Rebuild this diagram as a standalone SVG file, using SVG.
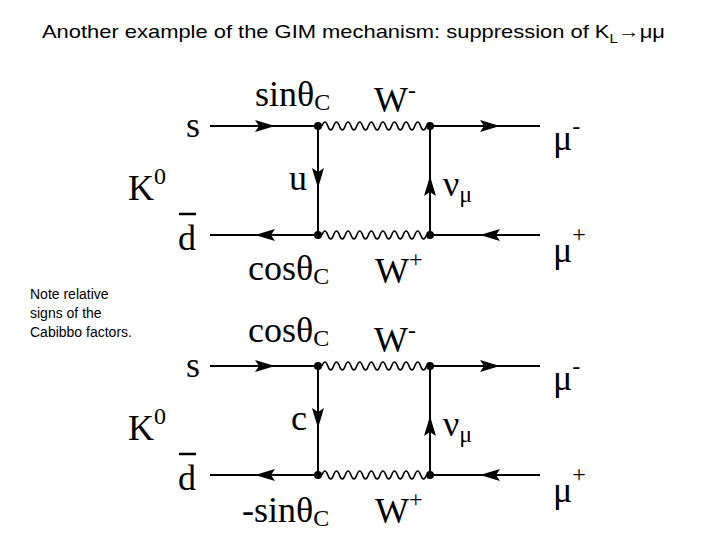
<svg xmlns="http://www.w3.org/2000/svg" width="720" height="540" viewBox="0 0 720 540">
<style>
.l{stroke:#000;stroke-width:2;fill:none}
.w{stroke:#000;stroke-width:1.6;fill:none}
.t{font-family:"Liberation Serif",serif;font-size:36px;fill:#000}
.s{font-size:24px}
.n{font-family:"Liberation Sans",sans-serif;font-size:14px;fill:#000}
</style>
<defs>
<path id="wav" d="M322,0 q2.9,-8 5.8,0 t5.8,0 t5.8,0 t5.8,0 t5.8,0 t5.8,0 t5.8,0 t5.8,0 t5.8,0 t5.8,0 t5.8,0 t5.8,0 t5.8,0 t5.8,0 t5.8,0 t5.8,0 t5.8,0 t5.8,0" class="w"/>
<polygon id="ar" points="-10,-6 10,0 -10,6 -6,0" fill="#000"/>
<g id="box">
<g id="lines">
<line class="l" x1="210" y1="0" x2="318" y2="0"/>
<line class="l" x1="430" y1="0" x2="540" y2="0"/>
<line class="l" x1="210" y1="109" x2="318" y2="109"/>
<line class="l" x1="430" y1="109" x2="540" y2="109"/>
<line class="l" x1="318" y1="0" x2="318" y2="109"/>
<line class="l" x1="430" y1="0" x2="430" y2="109"/>
<use href="#wav"/><use href="#wav" y="109"/>
<use href="#ar" transform="translate(265,0)"/>
<use href="#ar" transform="translate(490,0)"/>
<use href="#ar" transform="translate(265,109) rotate(180)"/>
<use href="#ar" transform="translate(490,109) rotate(180)"/>
<use href="#ar" transform="translate(318,52) rotate(90)"/>
<use href="#ar" transform="translate(430,60) rotate(-90)"/>
</g>
<circle cx="318" cy="0" r="4"/><circle cx="430" cy="0" r="4"/>
<circle cx="318" cy="109" r="4"/><circle cx="430" cy="109" r="4"/>
</g>
</defs>
<text x="42" y="38" font-family="Liberation Sans,sans-serif" font-size="19" textLength="623" lengthAdjust="spacingAndGlyphs">Another example of the GIM mechanism: suppression of K<tspan font-size="13" dy="5">L</tspan><tspan dy="-5">→μμ</tspan></text>
<g id="connectors"><use href="#box" y="126"/><use href="#box" y="366"/></g>
<g id="top-labels" class="t">
<text x="255" y="106">sinθ<tspan class="s" dy="4">C</tspan></text>
<text x="374" y="112">W<tspan class="s" dy="-14">-</tspan></text>
<text x="186" y="137">s</text>
<text x="553" y="150">μ<tspan class="s" dy="-16">-</tspan></text>
<text x="128" y="200">K<tspan class="s" dy="-16">0</tspan></text>
<text x="289" y="190">u</text>
<text x="443" y="196">ν<tspan class="s" dy="6">μ</tspan></text>
<text x="178" y="250">d</text><line x1="179" y1="214" x2="196" y2="214" stroke="#000" stroke-width="2.5"/>
<text x="553" y="262">μ<tspan class="s" dy="-20">+</tspan></text>
<text x="248" y="280">cosθ<tspan class="s" dy="4">C</tspan></text>
<text x="375" y="283">W<tspan class="s" dy="-16">+</tspan></text>
</g>
<g id="bottom-labels" class="t">
<text x="248" y="342">cosθ<tspan class="s" dy="4">C</tspan></text>
<text x="374" y="352">W<tspan class="s" dy="-14">-</tspan></text>
<text x="186" y="377">s</text>
<text x="553" y="390">μ<tspan class="s" dy="-16">-</tspan></text>
<text x="128" y="440">K<tspan class="s" dy="-16">0</tspan></text>
<text x="291" y="430">c</text>
<text x="443" y="436">ν<tspan class="s" dy="6">μ</tspan></text>
<text x="178" y="490">d</text><line x1="179" y1="454" x2="196" y2="454" stroke="#000" stroke-width="2.5"/>
<text x="553" y="502">μ<tspan class="s" dy="-20">+</tspan></text>
<text x="242" y="522">-sinθ<tspan class="s" dy="4">C</tspan></text>
<text x="375" y="523">W<tspan class="s" dy="-16">+</tspan></text>
</g>
<g id="note" class="n">
<text x="30" y="299">Note relative</text>
<text x="30" y="318">signs of the</text>
<text x="30" y="337">Cabibbo factors.</text>
</g>
</svg>
